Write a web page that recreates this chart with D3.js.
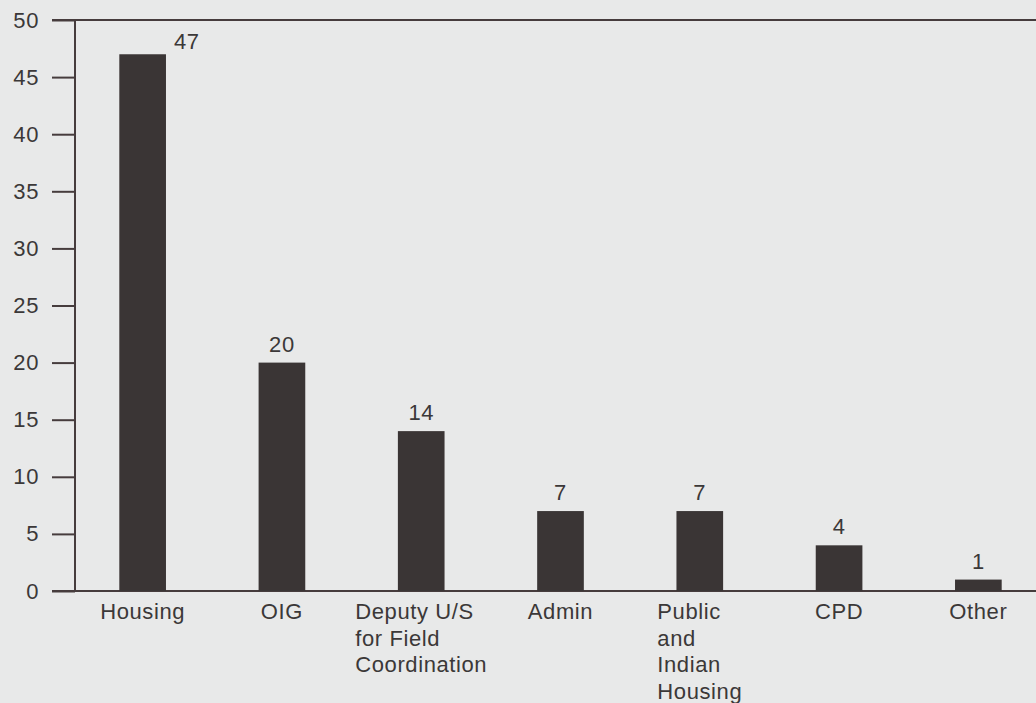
<!DOCTYPE html>
<html>
<head>
<meta charset="utf-8">
<script src="https://cdn.jsdelivr.net/npm/d3@7"></script>
<style>
  html, body { margin: 0; padding: 0; background: #e8e9e9; }
  svg { display: block; }
  text { font-family: "Liberation Sans", Arial, Helvetica, sans-serif; fill: #3b3838; letter-spacing: 0.6px; }
</style>
</head>
<body>
<svg id="chart" width="1036" height="703"></svg>
<script>
// Offices and their counts
const categories = [
  ["Housing"],
  ["OIG"],
  ["Deputy U/S", "for Field", "Coordination"],
  ["Admin"],
  ["Public", "and", "Indian", "Housing"],
  ["CPD"],
  ["Other"]
];
const values = [47, 20, 14, 7, 7, 4, 1];
const yTicks = [0, 5, 10, 15, 20, 25, 30, 35, 40, 45, 50];

const svg = d3.select("#chart");
const W = 1036, H = 703;
const axisX = 75, yTop = 20, yBottom = 591;
const ink = "#463c3d";
const barFill = "#3a3535";
const fontSize = 22;

const keys = categories.map(c => c.join(" "));

const x = d3.scaleBand()
  .domain(keys)
  .range([73, 1048])
  .paddingInner(0.665)
  .paddingOuter(0.3325);

const y = d3.scaleLinear().domain([0, 50]).range([yBottom, yTop]);

// Y axis: ticks drawn to the left of the vertical line
const yAxis = d3.axisLeft(y)
  .tickValues(yTicks)
  .tickSize(23)
  .tickPadding(13)
  .tickFormat(d3.format("d"));

const gy = svg.append("g")
  .attr("transform", `translate(${axisX},0)`)
  .call(yAxis);
gy.select(".domain").remove();
gy.selectAll(".tick line").attr("stroke", ink).attr("stroke-width", 2);
gy.selectAll(".tick text")
  .attr("font-size", fontSize)
  .attr("fill", "#3b3838")
  .style("font-family", "'Liberation Sans', Arial, sans-serif");

// Vertical axis line
svg.append("line")
  .attr("x1", axisX).attr("x2", axisX)
  .attr("y1", y(50)).attr("y2", y(0))
  .attr("stroke", ink).attr("stroke-width", 2);

// Top and base rules spanning the width
[50, 0].forEach(v => {
  svg.append("line")
    .attr("x1", 52).attr("x2", W)
    .attr("y1", y(v)).attr("y2", y(v))
    .attr("stroke", ink).attr("stroke-width", 2);
});

// Bars
svg.append("g").selectAll("rect")
  .data(values)
  .join("rect")
  .attr("x", (d, i) => x(keys[i]))
  .attr("width", x.bandwidth())
  .attr("y", d => y(d))
  .attr("height", d => y(0) - y(d))
  .attr("fill", barFill);

// Value labels: the tallest bar carries its label beside its top
svg.append("g").selectAll("text")
  .data(values)
  .join("text")
  .attr("font-size", fontSize)
  .attr("x", (d, i) => i === 0 ? x(keys[i]) + x.bandwidth() + 8 : x(keys[i]) + x.bandwidth() / 2)
  .attr("y", (d, i) => i === 0 ? y(d) - 5 : y(d) - 11)
  .attr("text-anchor", (d, i) => i === 0 ? "start" : "middle")
  .text(d => d);

// Category labels: multi-line blocks centred under each bar, lines left-aligned
const lineH = 26.5;
const labelG = svg.append("g");
categories.forEach((lines, i) => {
  const cx = x(keys[i]) + x.bandwidth() / 2;
  const t = labelG.append("text")
    .attr("font-size", fontSize)
    .attr("y", 619);
  let w = 0;
  lines.forEach((ln, j) => {
    const s = t.append("tspan").attr("x", 0).attr("dy", j === 0 ? 0 : lineH).text(ln);
    w = Math.max(w, s.node().getComputedTextLength());
  });
  t.attr("transform", `translate(${cx - w / 2},0)`);
});
</script>
</body>
</html>
